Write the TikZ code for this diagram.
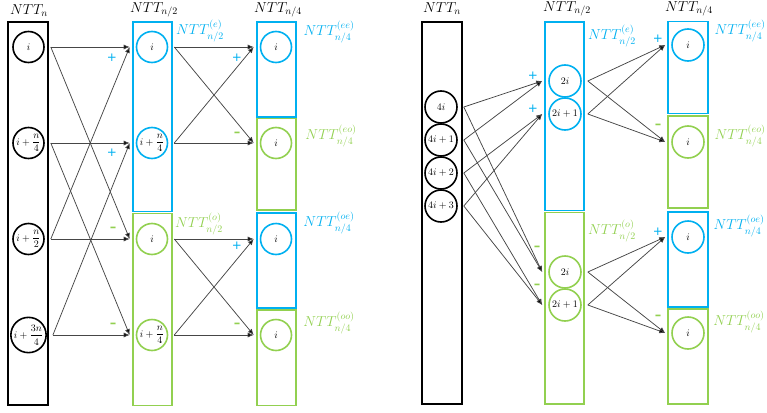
\documentclass[tikz,border=0pt]{standalone}
\usepackage{amsmath}
\usepackage{fontspec}
\newfontfamily\djv{DejaVu Sans}
\usetikzlibrary{arrows.meta}
\definecolor{cb}{RGB}{0,176,240}
\definecolor{cg}{RGB}{146,208,80}
\definecolor{ln}{RGB}{70,70,70}
\begin{document}
\begin{tikzpicture}[x=1pt,y=-1pt,
  bx/.style={draw=#1,line width=1.8pt,inner sep=0pt,minimum width=39pt},
  cc/.style={circle,draw=#1,line width=1.6pt,inner sep=0pt,minimum size=31pt,font=\fontsize{10}{11}\selectfont},
  cr/.style={circle,draw=#1,line width=1.6pt,inner sep=0pt,minimum size=32pt,font=\fontsize{10}{11}\selectfont},
  arr/.style={draw=ln,line width=0.75pt,-{Latex[length=6pt,width=5pt,fill=black]}},
  hd/.style={font=\fontsize{14.5}{16}\selectfont},
  lb/.style={text=#1,font=\fontsize{14.5}{16}\selectfont},
  pl/.style={text=cb,font=\djv\fontsize{12}{14}\selectfont},
  mi/.style={text=cg,font=\djv\bfseries\fontsize{13}{14}\selectfont}]
\useasboundingbox (0,0) rectangle (767,412);
% ---------------- left diagram ----------------
\node[bx=black,minimum width=40pt,minimum height=383pt] (L0) at (28,213.5) {};
\node[bx=cb,minimum height=189.5pt] (L1e) at (152.5,116.75) {};
\node[bx=cg,minimum height=192pt] (L1o) at (152.5,309.5) {};
\node[bx=cb,minimum height=95pt] (L2ee) at (276.5,69.5) {};
\node[bx=cg,minimum height=91.5pt] (L2eo) at (276.5,164.25) {};
\node[bx=cb,minimum height=95pt] (L2oe) at (276.5,260.5) {};
\node[bx=cg,minimum height=95.5pt] (L2oo) at (276.5,357.75) {};
\node[hd] (hL0) at (29,11) {$NTT_n$};
\node[hd] (hL1) at (154,10) {$NTT_{n/2}$};
\node[hd] (hL2) at (278,10) {$NTT_{n/4}$};
\node[lb=cb] (tL1e) at (200,31) {$NTT^{(e)}_{n/2}$};
\node[lb=cg] (tL1o) at (199,224) {$NTT^{(o)}_{n/2}$};
\node[lb=cb] (tL2ee) at (329,32) {$NTT^{(ee)}_{n/4}$};
\node[lb=cg] (tL2eo) at (331,136) {$NTT^{(eo)}_{n/4}$};
\node[lb=cb] (tL2oe) at (329,223) {$NTT^{(oe)}_{n/4}$};
\node[lb=cg] (tL2oo) at (329,323) {$NTT^{(oo)}_{n/4}$};
\node[cc=black] (a1) at (28.5,47) {$i$};
\node[cc=black] (a2) at (28.5,143) {$i+\dfrac{n}{4}$};
\node[cc=black] (a3) at (28.5,239) {$i+\dfrac{n}{2}$};
\node[cc=black] (a4) at (28.5,335) {$i+\dfrac{3n}{4}$};
\node[cc=cb] (b1) at (152,47) {$i$};
\node[cc=cb] (b2) at (152,143) {$i+\dfrac{n}{4}$};
\node[cc=cg] (b3) at (152,239) {$i$};
\node[cc=cg] (b4) at (152,335) {$i+\dfrac{n}{4}$};
\node[cc=cb] (c1) at (276,47) {$i$};
\node[cc=cg] (c2) at (276,143) {$i$};
\node[cc=cb] (c3) at (276,239) {$i$};
\node[cc=cg] (c4) at (276,335) {$i$};
\foreach \s/\t in {a1/b1,a1/b3,a3/b1,a3/b3,a2/b2,a2/b4,a4/b2,a4/b4,b1/c1,b1/c2,b2/c1,b2/c2,b3/c3,b3/c4,b4/c3,b4/c4}
  \draw[arr] ([xshift=6pt]\s.east) -- ([xshift=-6pt]\t.west);
\node[pl] (p1) at (112,58) {+};
\node[pl] (p2) at (112,153) {+};
\node[mi] (m1) at (113,229) {–};
\node[mi] (m2) at (113,325) {–};
\node[pl] (p3) at (237,58) {+};
\node[mi] (m3) at (237,134) {–};
\node[pl] (p4) at (237,246) {+};
\node[mi] (m4) at (237,325) {–};
% ---------------- right diagram ----------------
\node[bx=black,minimum width=40pt,minimum height=382pt] (R0) at (442,213) {};
\node[bx=cb,minimum height=188.5pt] (R1e) at (564.5,116.25) {};
\node[bx=cg,minimum height=191.5pt] (R1o) at (564.5,308.25) {};
\node[bx=cb,minimum width=40pt,minimum height=92pt] (R2ee) at (688,67.5) {};
\node[bx=cg,minimum width=40pt,minimum height=92pt] (R2eo) at (688,162) {};
\node[bx=cb,minimum width=40pt,minimum height=95pt] (R2oe) at (688,259.5) {};
\node[bx=cg,minimum width=40pt,minimum height=95pt] (R2oo) at (688,356.5) {};
\node[hd] (hR0) at (442,9) {$NTT_n$};
\node[hd] (hR1) at (567,9) {$NTT_{n/2}$};
\node[hd] (hR2) at (689,9) {$NTT_{n/4}$};
\node[lb=cb] (tR1e) at (612,36) {$NTT^{(e)}_{n/2}$};
\node[lb=cg] (tR1o) at (612,231) {$NTT^{(o)}_{n/2}$};
\node[lb=cb] (tR2ee) at (740,31) {$NTT^{(ee)}_{n/4}$};
\node[lb=cg] (tR2eo) at (740,136) {$NTT^{(eo)}_{n/4}$};
\node[lb=cb] (tR2oe) at (739,226) {$NTT^{(oe)}_{n/4}$};
\node[lb=cg] (tR2oo) at (739,322) {$NTT^{(oo)}_{n/4}$};
\node[cr=black] (d1) at (441,107) {$4i$};
\node[cr=black] (d2) at (441,140) {$4i+1$};
\node[cr=black] (d3) at (441,173) {$4i+2$};
\node[cr=black] (d4) at (441,206) {$4i+3$};
\node[cr=cb] (e1) at (565,81) {$2i$};
\node[cr=cb] (e2) at (565,114) {$2i+1$};
\node[cr=cg] (e3) at (565,272) {$2i$};
\node[cr=cg] (e4) at (565,305) {$2i+1$};
\node[cr=cb] (f1) at (688,45) {$i$};
\node[cr=cg] (f2) at (688,142) {$i$};
\node[cr=cb] (f3) at (688,237) {$i$};
\node[cr=cg] (f4) at (688,333) {$i$};
\foreach \s/\t in {d1/e1,d2/e1,d3/e2,d4/e2,d1/e3,d2/e3,d3/e4,d4/e4,e1/f1,e1/f2,e2/f1,e2/f2,e3/f3,e3/f4,e4/f3,e4/f4}
  \draw[arr] ([xshift=6pt]\s.east) -- ([xshift=-6pt]\t.west);
\node[pl] (p5) at (533,76) {+};
\node[pl] (p6) at (533,109) {+};
\node[mi] (m5) at (537,248) {–};
\node[mi] (m6) at (537,286) {–};
\node[pl] (p7) at (658,39) {+};
\node[mi] (m7) at (658,126) {–};
\node[pl] (p8) at (658,232) {+};
\node[mi] (m8) at (658,317) {–};
\end{tikzpicture}
\end{document}
